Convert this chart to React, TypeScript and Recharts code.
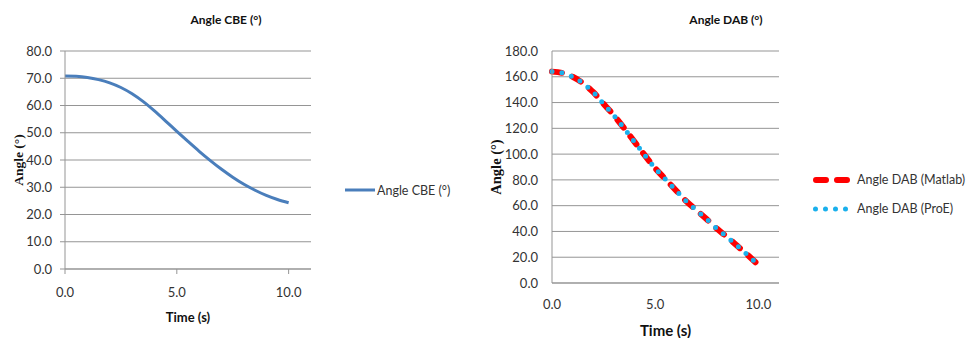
import React from "react";
import { LineChart, Line, XAxis, YAxis, CartesianGrid, Legend } from "recharts";

const TIME = [0, 0.5, 1, 1.5, 2, 2.5, 3, 3.5, 4, 4.5, 5, 5.5, 6, 6.5, 7, 7.5, 8, 8.5, 9, 9.5, 10];
const ANGLE_CBE = [70.8, 70.7, 70.3, 69.5, 68.3, 66.6, 64.3, 61.4, 58.0, 54.3, 50.5, 46.8, 43.2, 39.8, 36.6, 33.7, 31.1, 28.9, 27.0, 25.5, 24.3];
const ANGLE_DAB_MATLAB = [164, 163, 160, 155, 148, 139, 130, 120, 109.5, 99, 89, 80.5, 72, 63.5, 56.5, 49.5, 42, 35.5, 28.5, 21.5, 14];
const ANGLE_DAB_PROE = [164, 163, 160, 155, 148, 139, 130, 120, 109.5, 99, 89, 80.5, 72, 63.5, 56.5, 49.5, 42, 35.5, 28.5, 21.5, 14];

const X_TICKS = [0, 5, 10];
const CBE_TICKS = [0, 10, 20, 30, 40, 50, 60, 70, 80];
const DAB_TICKS = [0, 20, 40, 60, 80, 100, 120, 140, 160, 180];

const cbeData = TIME.map((t, i) => ({ t, cbe: ANGLE_CBE[i] }));
const dabData = TIME.map((t, i) => ({ t, matlab: ANGLE_DAB_MATLAB[i], proe: ANGLE_DAB_PROE[i] }));

const FONT = "Lato, 'Noto Sans', sans-serif";
const TEXT = "#333";
const GRID = "#959595";

const SERIES_STYLE: Record<string, { color: string; width: number; dash?: string; cap: "round" | "butt" }> = {
  "Angle CBE (°)": { color: "#4a7ebb", width: 3, cap: "butt" },
  "Angle DAB (Matlab)": { color: "#ff0000", width: 6, dash: "10 11", cap: "round" },
  "Angle DAB (ProE)": { color: "#1ab0ec", width: 5, dash: "0 10", cap: "round" },
};

const fmt = (v: number) => v.toFixed(1);

function renderLegend(lineLen: number, gap: number, rowH: number) {
  // eslint-disable-next-line @typescript-eslint/no-explicit-any
  return (props: any) => (
    <div style={{ fontFamily: FONT, fontSize: 12.5, color: TEXT }}>
      {/* eslint-disable-next-line @typescript-eslint/no-explicit-any */}
      {(props.payload || []).map((entry: any) => {
        const s = SERIES_STYLE[entry.value];
        return (
          <div key={entry.value} style={{ display: "flex", alignItems: "center", height: rowH, whiteSpace: "nowrap" }}>
            <svg width={lineLen} height={10} style={{ marginRight: gap }}>
              <line
                x1={s.cap === "round" ? s.width / 2 : 0}
                y1={5}
                x2={lineLen}
                y2={5}
                stroke={s.color}
                strokeWidth={s.width}
                strokeDasharray={s.dash}
                strokeLinecap={s.cap}
              />
            </svg>
            <span>{entry.value}</span>
          </div>
        );
      })}
    </div>
  );
}

function yTitle(x: number, size: number) {
  // eslint-disable-next-line @typescript-eslint/no-explicit-any
  return (props: any) => {
    const vb = props.viewBox;
    const cy = vb.y + vb.height / 2;
    return (
      <text
        x={x}
        y={cy}
        transform={`rotate(-90 ${x} ${cy})`}
        textAnchor="middle"
        dominantBaseline="central"
        fontFamily="'Liberation Serif', serif"
        fontWeight="bold"
        fontSize={size}
        fill="#111"
      >
        Angle (°)
      </text>
    );
  };
}

function xTitle(y: number, size: number) {
  // eslint-disable-next-line @typescript-eslint/no-explicit-any
  return (props: any) => {
    const vb = props.viewBox;
    return (
      <text
        x={vb.x + vb.width / 2}
        y={y}
        textAnchor="middle"
        dominantBaseline="central"
        fontFamily={FONT}
        fontWeight="bold"
        fontSize={size}
        fill="#111"
      >
        Time (s)
      </text>
    );
  };
}

const titleStyle = (cx: number): React.CSSProperties => ({
  position: "absolute",
  left: cx,
  top: 12,
  transform: "translateX(-50%)",
  fontFamily: FONT,
  fontWeight: "bold",
  fontSize: 12,
  color: "#111",
  whiteSpace: "nowrap",
});

export default function App() {
  return (
    <div style={{ position: "absolute", left: 0, top: 0, width: 975, height: 338, background: "#fff" }}>
      <div style={titleStyle(226)}>Angle CBE (°)</div>
      <div style={titleStyle(726)}>Angle DAB (°)</div>

      <div style={{ position: "absolute", left: 0, top: 0 }}>
        <LineChart width={480} height={338} data={cbeData} margin={{ top: 51, right: 169, left: 0, bottom: 0 }}>
          <CartesianGrid horizontal vertical={false} stroke={GRID} />
          <XAxis
            dataKey="t"
            type="number"
            domain={[0, 11]}
            ticks={X_TICKS}
            tickFormatter={fmt}
            height={69}
            stroke={GRID}
            tickSize={5}
            tickMargin={14}
            tick={{ fill: TEXT, fontSize: 13, fontFamily: FONT }}
            label={{ content: xTitle(317, 13) }}
          />
          <YAxis
            type="number"
            domain={[0, 80]}
            ticks={CBE_TICKS}
            tickFormatter={fmt}
            width={65}
            stroke={GRID}
            tickSize={5}
            tickMargin={8}
            tick={{ fill: TEXT, fontSize: 13, fontFamily: FONT }}
            label={{ content: yTitle(18, 13.5) }}
          />
          <Legend
            layout="vertical"
            align="center"
            verticalAlign="middle"
            wrapperStyle={{ left: 345, top: 175, width: "auto" }}
            content={renderLegend(30, 2, 30)}
          />
          <Line
            type="monotone"
            dataKey="cbe"
            name="Angle CBE (°)"
            stroke="#4a7ebb"
            strokeWidth={3}
            dot={false}
            isAnimationActive={false}
          />
        </LineChart>
      </div>

      <div style={{ position: "absolute", left: 480, top: 0 }}>
        <LineChart width={495} height={338} data={dabData} margin={{ top: 51, right: 196, left: 0, bottom: 0 }}>
          <CartesianGrid horizontal vertical={false} stroke={GRID} />
          <XAxis
            dataKey="t"
            type="number"
            domain={[0, 11]}
            ticks={X_TICKS}
            tickFormatter={fmt}
            height={55}
            stroke={GRID}
            tickLine={false}
            tickSize={6}
            tickMargin={11}
            tick={{ fill: TEXT, fontSize: 13, fontFamily: FONT }}
            label={{ content: xTitle(330, 15) }}
          />
          <YAxis
            type="number"
            domain={[0, 180]}
            ticks={DAB_TICKS}
            tickFormatter={fmt}
            width={72}
            stroke={GRID}
            tickLine={false}
            tickSize={6}
            tickMargin={8}
            tick={{ fill: TEXT, fontSize: 13, fontFamily: FONT }}
            label={{ content: yTitle(16, 14.5) }}
          />
          <Legend
            layout="vertical"
            align="center"
            verticalAlign="middle"
            wrapperStyle={{ left: 333, top: 165, width: "auto" }}
            content={renderLegend(37, 7, 29)}
          />
          <Line
            type="monotone"
            dataKey="matlab"
            name="Angle DAB (Matlab)"
            stroke="#ff0000"
            strokeWidth={6}
            strokeDasharray="10 11"
            strokeLinecap="round"
            dot={false}
            isAnimationActive={false}
          />
          <Line
            type="monotone"
            dataKey="proe"
            name="Angle DAB (ProE)"
            stroke="#1ab0ec"
            strokeWidth={5}
            strokeDasharray="0 10"
            strokeLinecap="round"
            dot={false}
            isAnimationActive={false}
          />
        </LineChart>
      </div>
    </div>
  );
}
